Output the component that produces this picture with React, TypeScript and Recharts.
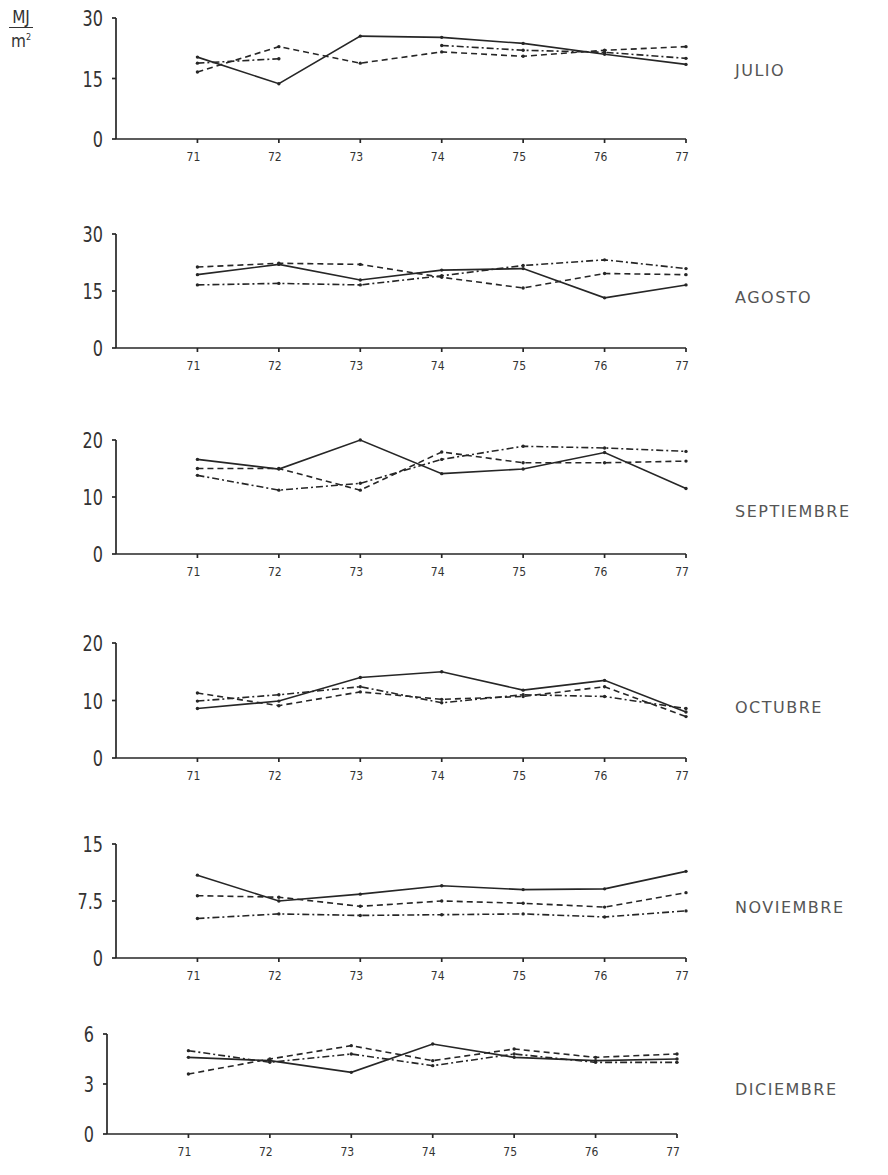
import React from 'react';
import { LineChart, Line, XAxis, YAxis } from 'recharts';

// años (eje X)
const years = [71, 72, 73, 74, 75, 76, 77];

// JULIO
const julioSolid = [20.3, 13.7, 25.5, 25.2, 23.7, 21.0, 18.5];
const julioDashed = [16.6, 22.9, 18.8, 21.6, 20.5, 22.0, 22.9];
const julioDotted = [18.8, 19.9, null, 23.2, 22.0, 21.5, 20.0];

// AGOSTO
const agostoSolid = [19.3, 22.0, 17.9, 20.5, 20.9, 13.2, 16.6];
const agostoDashed = [21.3, 22.3, 22.0, 18.6, 15.8, 19.6, 19.3];
const agostoDotted = [16.6, 17.0, 16.6, 19.0, 21.7, 23.2, 20.9];

// SEPTIEMBRE
const septSolid = [16.6, 14.9, 20.0, 14.1, 14.9, 17.8, 11.5];
const septDashed = [15.0, 15.0, 11.2, 17.9, 16.0, 16.0, 16.3];
const septDotted = [13.8, 11.2, 12.4, 16.6, 18.9, 18.6, 18.0];

// OCTUBRE
const octSolid = [8.6, 9.9, 14.0, 15.0, 11.8, 13.5, 8.0];
const octDashed = [11.3, 9.1, 11.5, 10.2, 10.7, 12.4, 7.2];
const octDotted = [9.9, 11.0, 12.4, 9.6, 11.0, 10.7, 8.6];

// NOVIEMBRE
const novSolid = [10.9, 7.5, 8.4, 9.5, 9.0, 9.1, 11.4];
const novDashed = [8.2, 8.0, 6.8, 7.5, 7.2, 6.7, 8.6];
const novDotted = [5.2, 5.8, 5.6, 5.7, 5.8, 5.4, 6.2];

// DICIEMBRE
const dicSolid = [4.6, 4.4, 3.7, 5.4, 4.6, 4.4, 4.5];
const dicDashed = [3.6, 4.5, 5.3, 4.4, 5.1, 4.6, 4.8];
const dicDotted = [5.0, 4.3, 4.8, 4.1, 4.8, 4.3, 4.3];

const months = ['JULIO', 'AGOSTO', 'SEPTIEMBRE', 'OCTUBRE', 'NOVIEMBRE', 'DICIEMBRE'];
const yTicks = [[0, 15, 30], [0, 15, 30], [0, 10, 20], [0, 10, 20], [0, 7.5, 15], [0, 3, 6]];
const yTickLabels = [['0', '15', '30'], ['0', '15', '30'], ['0', '10', '20'], ['0', '10', '20'], ['0', '7.5', '15'], ['0', '3', '6']];
const seriesByMonth = [
  [julioSolid, julioDashed, julioDotted],
  [agostoSolid, agostoDashed, agostoDotted],
  [septSolid, septDashed, septDotted],
  [octSolid, octDashed, octDotted],
  [novSolid, novDashed, novDotted],
  [dicSolid, dicDashed, dicDotted],
];

// posición de cada panel (arriba / línea base del eje)
const panels = [
  { top: 18, base: 139, labelOff: 68, shift: 0 },
  { top: 234, base: 348, labelOff: 50, shift: 0 },
  { top: 440, base: 554, labelOff: 42, shift: 0 },
  { top: 643, base: 758, labelOff: 50, shift: 0 },
  { top: 844, base: 958, labelOff: 50, shift: 0 },
  { top: 1034, base: 1134, labelOff: 44, shift: -9 },
];

const INK = '#262626';
const NARROW = '"Liberation Sans Narrow", "DejaVu Sans Condensed", "Arial Narrow", "DejaVu Sans", sans-serif';
const PLOT_LEFT = 116;
const PLOT_RIGHT = 686;
const PAD = 20;

const lineStyles = [
  { key: 'a', dash: undefined },
  { key: 'b', dash: '6 4' },
  { key: 'c', dash: '7 3 2 3' },
];

function Panel({ idx }: { idx: number }) {
  const p = panels[idx];
  const [s1, s2, s3] = seriesByMonth[idx];
  const data = years.map((y, i) => ({ year: y, a: s1[i], b: s2[i], c: s3[i] }));
  const ticks = yTicks[idx];
  const labels = yTickLabels[idx];

  const YTick = ({ x, y, payload }: any) => {
    const k = ticks.indexOf(payload.value);
    return (
      <g transform={`translate(${x},${y})`}>
        <text x={0} y={0} dy={8} textAnchor="end" fontSize={21} fill="#333" fontFamily={NARROW} transform="scale(0.85,1)">
          {labels[k]}
        </text>
      </g>
    );
  };

  const XTick = ({ x, y, payload }: any) => (
    <text x={x - 4} y={y} dy={14} textAnchor="middle" fontSize={12} fill="#333" fontFamily={NARROW}>
      {payload.value}
    </text>
  );

  const H = p.base - p.top + PAD + 32;
  return (
    <div style={{ position: 'absolute', left: p.shift, top: p.top - PAD }}>
      <LineChart
        width={888}
        height={H}
        data={data}
        margin={{ top: PAD, right: 888 - PLOT_RIGHT, left: PLOT_LEFT - 50, bottom: 0 }}
      >
        <XAxis
          dataKey="year"
          type="number"
          domain={[70, 77]}
          ticks={years}
          height={32}
          stroke={INK}
          strokeWidth={1.7}
          tickSize={4}
          tickMargin={4}
          tick={<XTick />}
        />
        <YAxis
          type="number"
          domain={[0, ticks[2]]}
          ticks={ticks}
          width={50}
          stroke={INK}
          strokeWidth={1.7}
          tickSize={4}
          tickMargin={9}
          tick={<YTick />}
        />
        {lineStyles.map((ls) => (
          <Line
            key={ls.key}
            dataKey={ls.key}
            stroke={INK}
            strokeWidth={1.6}
            strokeDasharray={ls.dash}
            dot={{ r: 1.7, fill: INK, stroke: 'none' }}
            isAnimationActive={false}
          />
        ))}
      </LineChart>
      <div
        style={{
          position: 'absolute',
          left: 735 - p.shift,
          top: PAD + (p.base - p.top) - p.labelOff - 10,
          fontFamily: '"DejaVu Sans", sans-serif',
          fontSize: 16,
          letterSpacing: 1.5,
          color: '#555',
          whiteSpace: 'nowrap',
        }}
      >
        {months[idx]}
      </div>
    </div>
  );
}

export default function App() {
  return (
    <div style={{ position: 'absolute', left: 0, top: 0, width: 888, height: 1175, background: '#fff', overflow: 'hidden' }}>
      {/* unidad MJ/m² */}
      <div style={{ position: 'absolute', left: 6, top: 9, width: 30, textAlign: 'center', fontFamily: NARROW, fontSize: 17, color: '#333', lineHeight: '17px' }}>
        <div>MJ</div>
        <div style={{ borderTop: '1.5px solid #333', margin: '1px 3px' }} />
        <div>m<sup style={{ fontSize: 9 }}>2</sup></div>
      </div>
      {months.map((m, i) => (
        <Panel key={m} idx={i} />
      ))}
    </div>
  );
}
